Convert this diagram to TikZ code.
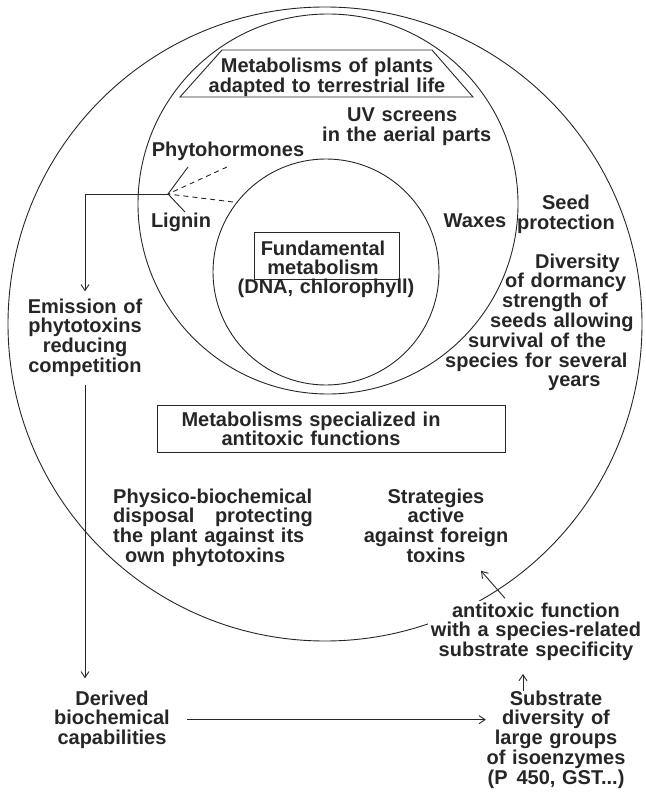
\documentclass[tikz,border=0pt]{standalone}
\usepackage{fontspec}
\setmainfont{Liberation Sans}
\usetikzlibrary{arrows.meta}
\begin{document}
\begin{tikzpicture}[x=1pt,y=-1pt,
  ink/.style={draw=black!85, line width=0.9pt},
  arr/.style={ink, -{Straight Barb[length=6pt,width=8pt]}},
  txt/.style={font=\bfseries\fontsize{20}{19.8}\selectfont, text=black!85,
              inner sep=0pt, anchor=base, align=center, text width=#1},
  txt/.default=200pt,
  frame/.style={ink, inner sep=0pt},
]
\useasboundingbox (0,0) rectangle (645,794);

% three nested spheres of metabolism
\draw[ink] (325,324) circle[radius=317pt];
\draw[ink] (328,204) circle[radius=190pt];
\draw[ink] (326,272) circle[radius=113pt];

% terrestrial-life heading in a trapezoid
\coordinate (tz1) at (222,50);
\coordinate (tz2) at (432,50);
\coordinate (tz3) at (473,97);
\coordinate (tz4) at (180,97);
\draw[ink] (tz1) -- (tz2) -- (tz3) -- (tz4) -- cycle;
\node[txt=300pt] (terr) at (327,73) {Metabolisms of plants\\adapted to terrestrial life};

\node[txt=200pt, align=left, anchor=base west] (uv) at (322,122)
  {\hspace*{25pt}UV screens\\in the aerial parts};
\node[txt=170pt] (phyto) at (228,157) {Phytohormones};
\node[txt=80pt] (lignin) at (181,228) {Lignin};
\node[txt=80pt] (waxes) at (475,228) {Waxes};
\node[txt=110pt] (seed) at (566,210) {Seed\\protection};
\node[txt=200pt, align=left, anchor=base west] (div) at (445,268)
  {\hspace*{90pt}Diversity\\
   \hspace*{60pt}of dormancy\\
   \hspace*{57pt}strength of\\
   \hspace*{45pt}seeds allowing\\
   \hspace*{23pt}survival of the\\
   species for several\\
   \hspace*{103pt}years};

% core: fundamental metabolism
\node[frame, minimum width=145pt, minimum height=47pt] (fund) at (326.5,255.5) {};
\node[txt=160pt] (fundtxt) at (323,255) {Fundamental\\metabolism};
\node[txt=220pt] (dna) at (326,293) {(DNA, chlorophyll)};

% fork gathering phytohormones and lignin
\coordinate (fv) at (168,194);
\coordinate (fu) at (188,167);
\coordinate (fl) at (185,212);
\coordinate (du) at (227,167);
\coordinate (dl) at (233,202);
\coordinate (fk) at (85,194);
\draw[ink] (fu) -- (fv) -- (fl);
\draw[ink, dash pattern=on 5pt off 4pt] (du) -- (fv);
\draw[ink, dash pattern=on 5pt off 4pt] (dl) -- (fv);

\node[txt=150pt] (emis) at (85,313) {Emission of\\phytotoxins\\reducing\\competition};
\draw[arr] (fv) -- (fk) -- ([yshift=7pt]emis.north);

% antitoxic metabolisms
\node[frame, minimum width=348pt, minimum height=47pt] (antibox) at (331,428.5) {};
\node[txt=300pt] (antitxt) at (311,426) {Metabolisms specialized in\\antitoxic functions};

\node[txt=230pt, align=left, anchor=base west] (phys) at (113,503)
  {Physico-biochemical\\disposal\hspace{14pt} protecting\\the plant against its\\\hspace*{12pt}own phytotoxins};
\node[txt=160pt] (strat) at (436,503) {Strategies\\active\\against foreign\\toxins};

\node[txt=216pt, fill=white, inner ysep=2pt] (antifn) at (536,617)
  {antitoxic function\\with a species-related\\substrate specificity};
\draw[arr] ([xshift=-31pt,yshift=2pt]antifn.north) -- ([xshift=45pt,yshift=-8pt]strat.south);

% derived capabilities and isoenzymes
\node[txt=150pt] (deriv) at (112,705) {Derived\\biochemical\\capabilities};
\node[txt=140pt] (subs) at (556,705)
  {Substrate\\diversity of\\large groups\\of isoenzymes\\(P\hspace{9pt}450, GST...)};

\coordinate (esrc) at ([yshift=-8pt]emis.south);
\coordinate (dtop) at ([yshift=12pt]deriv.north);
\draw[arr] (esrc) -- (esrc |- dtop);
\draw[arr] (deriv.east) -- (deriv.east -| subs.west);
\draw[arr] ([xshift=-33pt,yshift=-1pt]subs.north) -- ([xshift=-13pt,yshift=-11pt]antifn.south);
\end{tikzpicture}
\end{document}
